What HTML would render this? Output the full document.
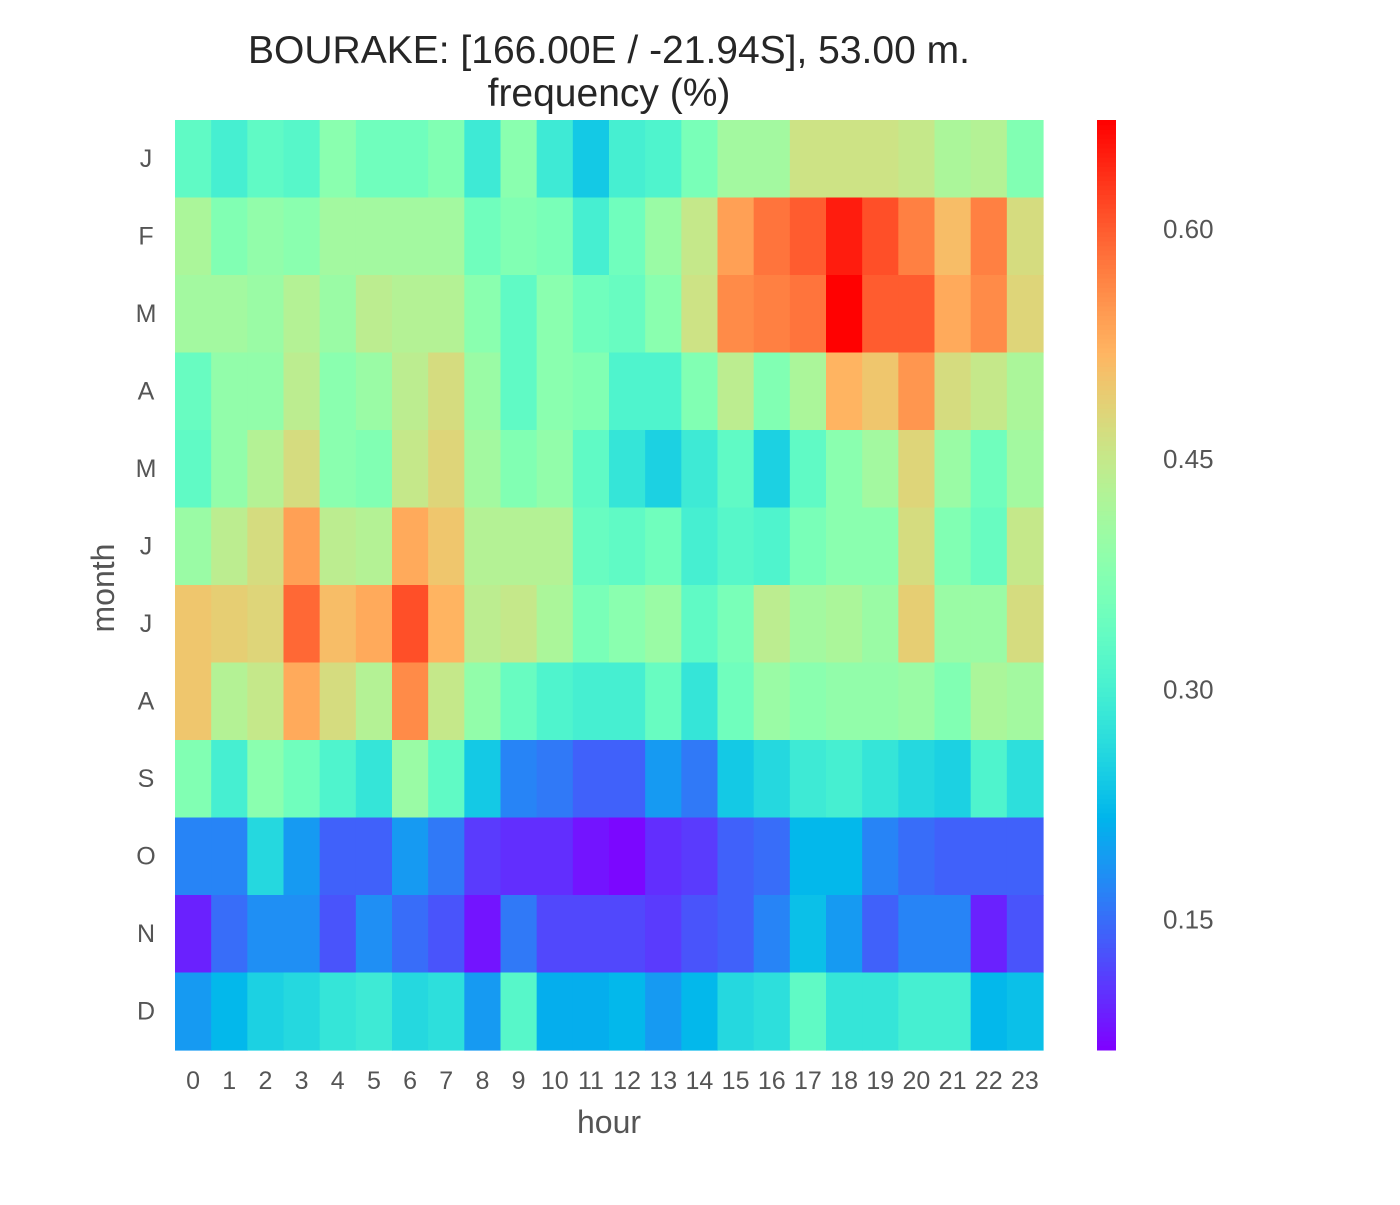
<!DOCTYPE html>
<html><head><meta charset="utf-8"><style>
body{margin:0;background:#fff;}
svg text{font-family:"Liberation Sans",Arial,sans-serif;}
</style></head><body>
<svg id="chart" width="1400" height="1200" xmlns="http://www.w3.org/2000/svg">
<text x="609" y="63" font-size="39" fill="#262626" text-anchor="middle">BOURAKE: [166.00E / -21.94S], 53.00 m.</text>
<text x="609" y="106" font-size="39" fill="#262626" text-anchor="middle">frequency (%)</text>
<g id="cells"></g>
<g id="xt"></g>
<g id="yt"></g>
<text x="609" y="1133" font-size="32" fill="#555" text-anchor="middle">hour</text>
<text transform="translate(114,588) rotate(-90)" font-size="32" fill="#555" text-anchor="middle">month</text>
<g id="cb"></g>
<g id="cbt"></g>
</svg>
<script>
const hours=[0,1,2,3,4,5,6,7,8,9,10,11,12,13,14,15,16,17,18,19,20,21,22,23];
const months=["J","F","M","A","M","J","J","A","S","O","N","D"];
const rowJan=[0.33,0.30,0.33,0.32,0.38,0.35,0.35,0.37,0.29,0.38,0.29,0.24,0.30,0.31,0.36,0.41,0.41,0.46,0.46,0.46,0.45,0.42,0.43,0.37];
const rowFeb=[0.42,0.37,0.39,0.38,0.41,0.41,0.41,0.41,0.35,0.37,0.36,0.30,0.35,0.40,0.45,0.54,0.58,0.60,0.65,0.61,0.57,0.51,0.57,0.47];
const rowMar=[0.41,0.41,0.40,0.43,0.40,0.44,0.43,0.43,0.38,0.33,0.38,0.35,0.34,0.38,0.46,0.56,0.57,0.58,0.67,0.60,0.60,0.53,0.56,0.48];
const rowApr=[0.34,0.39,0.39,0.44,0.38,0.40,0.44,0.47,0.40,0.33,0.38,0.37,0.31,0.31,0.37,0.44,0.37,0.42,0.52,0.50,0.55,0.47,0.45,0.42];
const rowMay=[0.33,0.39,0.43,0.47,0.38,0.37,0.45,0.48,0.41,0.37,0.39,0.33,0.28,0.25,0.29,0.33,0.25,0.33,0.38,0.41,0.48,0.40,0.35,0.41];
const rowJun=[0.40,0.44,0.47,0.54,0.44,0.43,0.53,0.50,0.43,0.43,0.43,0.34,0.33,0.35,0.30,0.32,0.31,0.36,0.38,0.38,0.47,0.37,0.34,0.45];
const rowJul=[0.50,0.49,0.48,0.59,0.51,0.53,0.61,0.52,0.44,0.45,0.42,0.36,0.38,0.40,0.33,0.36,0.44,0.41,0.42,0.40,0.49,0.40,0.40,0.47];
const rowAug=[0.50,0.43,0.45,0.53,0.47,0.43,0.56,0.45,0.39,0.34,0.31,0.30,0.30,0.34,0.28,0.35,0.40,0.38,0.39,0.39,0.40,0.37,0.42,0.41];
const rowSep=[0.37,0.30,0.38,0.35,0.31,0.28,0.40,0.33,0.24,0.17,0.16,0.14,0.14,0.19,0.16,0.24,0.26,0.29,0.30,0.28,0.26,0.25,0.31,0.27];
const rowOct=[0.17,0.17,0.26,0.19,0.14,0.14,0.19,0.16,0.11,0.10,0.10,0.08,0.07,0.10,0.11,0.14,0.15,0.22,0.22,0.17,0.15,0.14,0.14,0.14];
const rowNov=[0.09,0.15,0.18,0.18,0.13,0.18,0.15,0.13,0.08,0.16,0.12,0.12,0.12,0.11,0.13,0.14,0.17,0.23,0.19,0.14,0.17,0.17,0.09,0.13];
const rowDec=[0.19,0.22,0.25,0.26,0.28,0.29,0.26,0.27,0.19,0.32,0.21,0.21,0.22,0.19,0.22,0.26,0.27,0.33,0.28,0.28,0.30,0.30,0.22,0.23];
const values=[rowJan,rowFeb,rowMar,rowApr,rowMay,rowJun,rowJul,rowAug,rowSep,rowOct,rowNov,rowDec];
const cbTicks=[0.15,0.30,0.45,0.60];
const cbLabels=["0.15","0.30","0.45","0.60"];
const vmin=0.065, vmax=0.671;

const NS="http://www.w3.org/2000/svg";
const X0=175,X1=1043,Y0=120,Y1=1050;
const cw=(X1-X0)/hours.length, ch=(Y1-Y0)/months.length;
function xPos(i){return X0+i*cw;}
function yPos(j){return Y0+j*ch;}
function cbY(v){return Y1-(v-vmin)/(vmax-vmin)*(Y1-Y0);}
function color(v){
  let x=Math.max(0,Math.min(1,(v-vmin)/(vmax-vmin)));
  let r=Math.min(1,Math.abs(2*x-0.5)),g=Math.sin(Math.PI*x),b=Math.cos(Math.PI*x/2);
  return `rgb(${Math.round(r*255)},${Math.round(g*255)},${Math.round(b*255)})`;
}
function mk(tag,attrs,parent){const e=document.createElementNS(NS,tag);for(const k in attrs)e.setAttribute(k,attrs[k]);parent.appendChild(e);return e;}
const cells=document.getElementById('cells');
values.forEach((row,j)=>row.forEach((v,i)=>{
  const r=mk('rect',{x:xPos(i),y:yPos(j),width:cw+0.6,height:ch+0.6,fill:color(v)},cells);
  
  
}));
const xt=document.getElementById('xt');
hours.forEach((h,i)=>{
  const t=mk('text',{x:xPos(i)+cw/2,y:1089,'font-size':25,fill:'#555','text-anchor':'middle'},xt);
  t.textContent=h;
  
  
});
const yt=document.getElementById('yt');
months.forEach((m,j)=>{
  const t=mk('text',{x:146,y:yPos(j)+ch/2+8,'font-size':25,fill:'#555','text-anchor':'middle'},yt);
  t.textContent=m;
  
  
});
const cb=document.getElementById('cb');
for(let k=0;k<200;k++){
  const v0=vmin+(vmax-vmin)*k/200, v1=vmin+(vmax-vmin)*(k+1)/200;
  const r=mk('rect',{x:1097,y:cbY(v1),width:19,height:cbY(v0)-cbY(v1)+0.5,fill:color((v0+v1)/2)},cb);
  
  
}
const cbt=document.getElementById('cbt');
cbTicks.forEach((v,k)=>{
  const t=mk('text',{x:1163,y:cbY(v)+9,'font-size':26,fill:'#555'},cbt);
  t.textContent=cbLabels[k];
  
  
});
</script>
</body></html>
